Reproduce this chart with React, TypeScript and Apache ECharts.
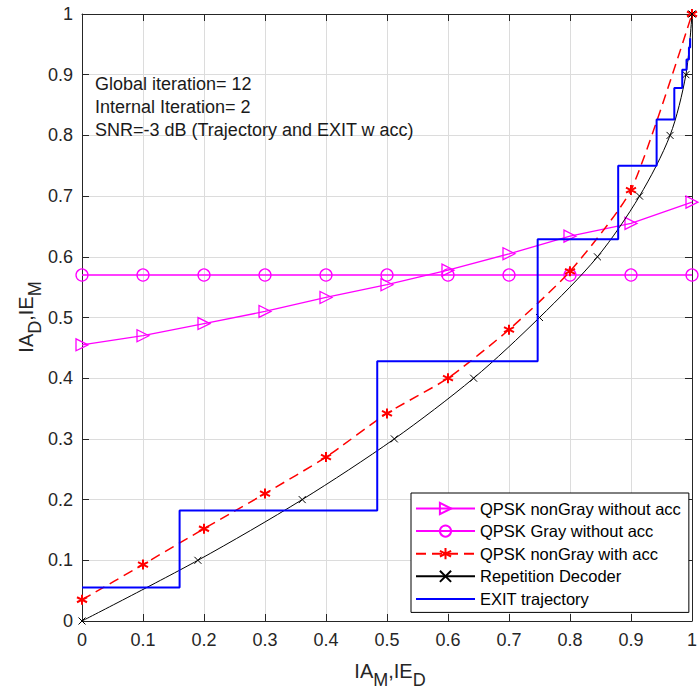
import React, { useEffect, useRef } from "react";
import * as echarts from "echarts";

// ---- data ----
const xs = [0, 0.1, 0.2, 0.3, 0.4, 0.5, 0.6, 0.7, 0.8, 0.9, 1];
const nonGrayNoAcc = [0.455, 0.47, 0.49, 0.51, 0.533, 0.554, 0.578, 0.605, 0.634, 0.655, 0.69];
const grayNoAcc = [0.57, 0.57, 0.57, 0.57, 0.57, 0.57, 0.57, 0.57, 0.57, 0.57, 0.57];
const nonGrayAcc = [0.035, 0.093, 0.152, 0.21, 0.27, 0.342, 0.4, 0.48, 0.576, 0.71, 1.0];
const repX = [0, 0.19, 0.361, 0.512, 0.642, 0.75, 0.845, 0.914, 0.964, 0.99, 1];
const repY = [0, 0.1, 0.2, 0.3, 0.4, 0.5, 0.6, 0.7, 0.8, 0.9, 1];
const trajX = [0, 0.16, 0.16, 0.484, 0.484, 0.747, 0.747, 0.879, 0.879, 0.942, 0.942, 0.971, 0.971, 0.984, 0.984, 0.991, 0.991, 0.995, 0.995, 0.997, 0.997];
const trajY = [0.055, 0.055, 0.182, 0.182, 0.428, 0.428, 0.629, 0.629, 0.75, 0.75, 0.826, 0.826, 0.878, 0.878, 0.908, 0.908, 0.925, 0.925, 0.945, 0.945, 0.96];
const seriesNames = [
  "QPSK nonGray without acc",
  "QPSK Gray without acc",
  "QPSK nonGray with acc",
  "Repetition Decoder",
  "EXIT trajectory",
];
const annotations = [
  "Global iteration= 12",
  "Internal Iteration= 2",
  "SNR=-3 dB (Trajectory and EXIT w acc)",
];

const FONT = "'Liberation Sans', Arial, Helvetica, sans-serif";
const AXIS = "#262626";

const pairs = (a: number[], b: number[]) => a.map((v, i) => [v, b[i]]);
const fmt = (v: number) => String(+v.toFixed(1));

export default function App() {
  const ref = useRef<HTMLDivElement>(null);
  useEffect(() => {
    if (!ref.current) return;
    const chart = echarts.init(ref.current, undefined, { renderer: "svg" });
    const valueAxisBase = {
      type: "value" as const,
      min: 0,
      max: 1,
      interval: 0.1,
      axisLine: { show: true, onZero: false, lineStyle: { color: AXIS, width: 1 } },
      axisTick: { show: true, inside: true, length: 7, lineStyle: { color: AXIS } },
    };
    const labelRich = {
      m: { fontSize: 20, lineHeight: 20, verticalAlign: "top", fontFamily: FONT, fill: AXIS },
      s: { fontSize: 18, lineHeight: 18, padding: [10, 0, 0, 0], verticalAlign: "top", fontFamily: FONT, fill: AXIS },
    };
    chart.setOption({
      animation: false,
      backgroundColor: "#fff",
      grid: { left: 82, right: 3, top: 14, bottom: 71, containLabel: false },
      xAxis: [
        {
          ...valueAxisBase,
          position: "bottom",
          axisLabel: { margin: 10, fontSize: 18, color: AXIS, fontFamily: FONT, formatter: fmt },
          splitLine: { show: true, lineStyle: { color: "#dcdcdc", width: 1 } },
        },
        {
          ...valueAxisBase,
          position: "top",
          axisLabel: { show: false },
          splitLine: { show: false },
        },
      ],
      yAxis: [
        {
          ...valueAxisBase,
          position: "left",
          axisLabel: { margin: 9, fontSize: 18, color: AXIS, fontFamily: FONT, formatter: fmt },
          splitLine: { show: true, lineStyle: { color: "#dcdcdc", width: 1 } },
        },
        {
          ...valueAxisBase,
          position: "right",
          axisLabel: { show: false },
          splitLine: { show: false },
        },
      ],
      legend: {
        orient: "vertical",
        left: 411,
        top: 493,
        padding: [7, 8, 5, 4],
        itemWidth: 59,
        itemHeight: 14,
        itemGap: 5.6,
        borderColor: "#000",
        borderWidth: 1,
        borderRadius: 0,
        backgroundColor: "#fff",
        textStyle: { fontSize: 16.5, color: "#000", fontFamily: FONT },
        data: seriesNames,
      },
      graphic: [
        ...annotations.map((t, i) => ({
          type: "text",
          x: 95,
          y: 83.5 + i * 23.3,
          style: {
            text: t,
            fontSize: 18,
            fontFamily: FONT,
            fill: "#1a1a1a",
            textAlign: "left",
            textVerticalAlign: "middle",
          },
          z: 50,
        })),
        {
          type: "text",
          x: 390,
          y: 670.5,
          style: {
            text: "{m|IA}{s|M}{m|,IE}{s|D}",
            fontFamily: FONT,
            fill: AXIS,
            textAlign: "center",
            textVerticalAlign: "middle",
            rich: labelRich,
          },
        },
        {
          type: "text",
          x: 25.5,
          y: 317,
          rotation: Math.PI / 2,
          style: {
            text: "{m|IA}{s|D}{m|,IE}{s|M}",
            fontFamily: FONT,
            fill: AXIS,
            textAlign: "center",
            textVerticalAlign: "middle",
            rich: labelRich,
          },
        },
      ],
      series: [
        {
          name: seriesNames[0],
          type: "line",
          data: pairs(xs, nonGrayNoAcc),
          symbol: "triangle",
          symbolRotate: -90,
          symbolSize: 12,
          showAllSymbol: true,
          color: "#ff00ff",
          itemStyle: { color: "transparent", borderColor: "#ff00ff", borderWidth: 1.3 },
          lineStyle: { color: "#ff00ff", width: 1.3 },
          z: 3,
        },
        {
          name: seriesNames[1],
          type: "line",
          data: pairs(xs, grayNoAcc),
          symbol: "circle",
          symbolSize: 12,
          showAllSymbol: true,
          color: "#ff00ff",
          itemStyle: { color: "transparent", borderColor: "#ff00ff", borderWidth: 1.3 },
          lineStyle: { color: "#ff00ff", width: 1.3 },
          z: 3,
        },
        {
          name: seriesNames[2],
          type: "line",
          data: pairs(xs, nonGrayAcc),
          smooth: 0.2,
          symbol: "path://M0,-5L0,5M-4.33,-2.5L4.33,2.5M-4.33,2.5L4.33,-2.5",
          symbolSize: 10,
          showAllSymbol: true,
          color: "#ff0000",
          itemStyle: { color: "#ff0000", borderColor: "#ff0000", borderWidth: 2 },
          lineStyle: { color: "#ff0000", width: 1.5, type: [10, 6] },
          z: 4,
        },
        {
          name: seriesNames[3],
          type: "line",
          data: pairs(repX, repY),
          smooth: 0.3,
          symbol: "path://M-4,-4L4,4M-4,4L4,-4",
          symbolSize: 7,
          showAllSymbol: true,
          color: "#000",
          itemStyle: { color: "#000", borderColor: "#000", borderWidth: 1 },
          lineStyle: { color: "#000", width: 1 },
          z: 5,
        },
        {
          name: seriesNames[4],
          type: "line",
          data: pairs(trajX, trajY),
          symbol: "circle",
          showSymbol: false,
          color: "#0000ff",
          itemStyle: { color: "transparent", borderColor: "transparent", borderWidth: 0 },
          lineStyle: { color: "#0000ff", width: 2 },
          z: 6,
        },
      ],
    });
    return () => chart.dispose();
  }, []);
  return (
    <div
      ref={ref}
      style={{ position: "fixed", left: 0, top: 0, width: 700, height: 692 }}
    />
  );
}
